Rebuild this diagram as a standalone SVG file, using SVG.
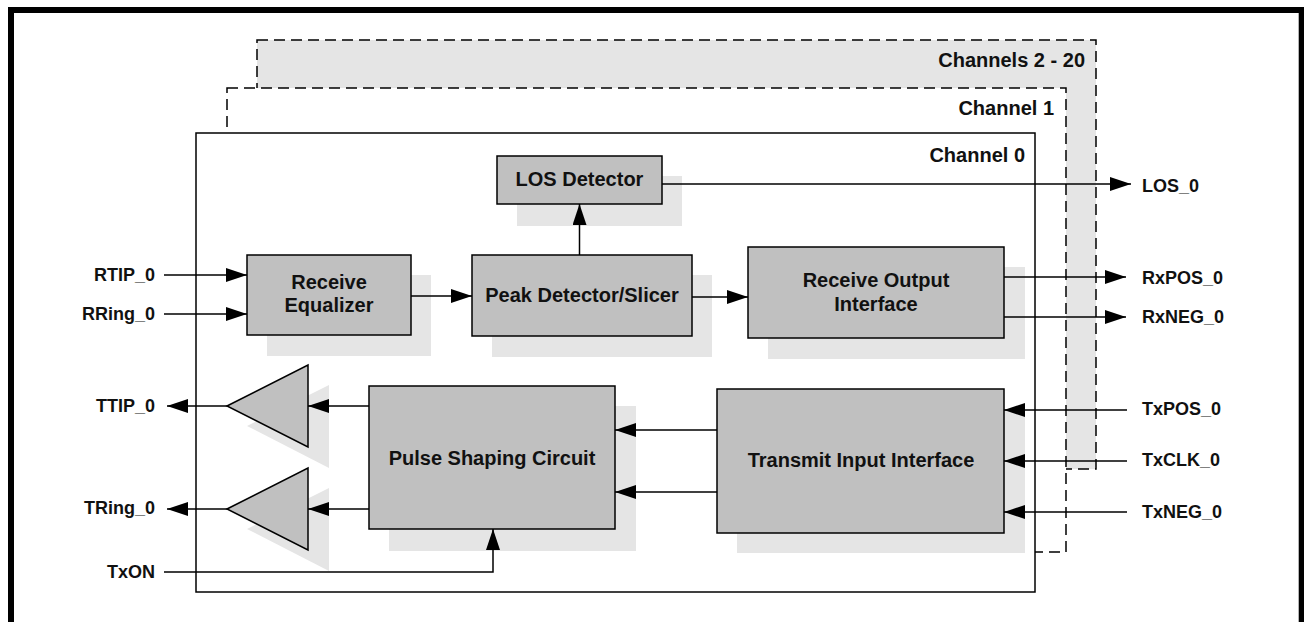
<svg xmlns="http://www.w3.org/2000/svg" width="1304" height="622" viewBox="0 0 1304 622">
<defs>
<marker id="arr" markerUnits="userSpaceOnUse" markerWidth="21" markerHeight="14" refX="21" refY="7" orient="auto">
<path d="M0,0 L21,7 L0,14 z" fill="#000"/>
</marker>
<style>
.box{fill:#c0c0c0;stroke:#000;stroke-width:1.5}
.shd{fill:#e5e5e5;stroke:none}
.ch{stroke:#000;stroke-width:1.5}
.dash{stroke-dasharray:11,6}
.t{font-family:"Liberation Sans",Arial,sans-serif;font-weight:bold;font-size:20px;fill:#111;text-anchor:middle}
.p{font-family:"Liberation Sans",Arial,sans-serif;font-weight:bold;font-size:18px;fill:#111}
.l{text-anchor:end}
.c{font-family:"Liberation Sans",Arial,sans-serif;font-weight:bold;font-size:20px;fill:#111;text-anchor:end}
.w{fill:none;stroke:#000;stroke-width:1.5}
</style>
</defs>
<rect x="0" y="0" width="1304" height="622" fill="#fff"/>
<rect x="11" y="10" width="1290.7" height="700" fill="none" stroke="#000" stroke-width="6"/>

<g id="channels">
<rect x="257" y="40" width="839" height="429" fill="#e5e5e5" class="ch dash"/>
<text class="c" x="1085" y="67">Channels 2 - 20</text>
<rect x="227" y="88" width="839" height="464" fill="#fff" class="ch dash"/>
<text class="c" x="1054" y="115">Channel 1</text>
<rect x="196" y="133" width="839" height="459" fill="#fff" class="ch"/>
<text class="c" x="1025" y="162">Channel 0</text>
</g>

<g id="los-detector">
<rect class="shd" x="517" y="176" width="165" height="50"/>
<rect class="box" x="497" y="156" width="165" height="48"/>
<text class="t" x="579.5" y="186">LOS Detector</text>
</g>

<g id="receive-equalizer">
<rect class="shd" x="267" y="275" width="164" height="81"/>
<rect class="box" x="247" y="255" width="164" height="80"/>
<text class="t" x="329" y="289">Receive</text>
<text class="t" x="329" y="312">Equalizer</text>
</g>

<g id="peak-detector">
<rect class="shd" x="492" y="275" width="220" height="82"/>
<rect class="box" x="472" y="255" width="220" height="81"/>
<text class="t" x="582" y="302">Peak Detector/Slicer</text>
</g>

<g id="receive-output">
<rect class="shd" x="768" y="267" width="257" height="92"/>
<rect class="box" x="748" y="247" width="256" height="91"/>
<text class="t" x="876" y="287">Receive Output</text>
<text class="t" x="876" y="311">Interface</text>
</g>

<g id="pulse-shaping">
<rect class="shd" x="389" y="406" width="247" height="145"/>
<rect class="box" x="369" y="386" width="246" height="143"/>
<text class="t" x="492" y="465">Pulse Shaping Circuit</text>
</g>

<g id="transmit-input">
<rect class="shd" x="737" y="409" width="288" height="144"/>
<rect class="box" x="717" y="389" width="287" height="144"/>
<text class="t" x="861" y="467">Transmit Input Interface</text>
</g>

<g id="driver-ttip">
<polygon class="shd" points="247,426 329,385 329,468"/>
<polygon class="box" points="227,406 308,365 308,447"/>
</g>

<g id="driver-tring">
<polygon class="shd" points="247,529 329,488 329,571"/>
<polygon class="box" points="227,509 308,468 308,550"/>
</g>

<g id="ports">
<text class="p l" x="155" y="281">RTIP_0</text>
<text class="p l" x="155" y="320">RRing_0</text>
<text class="p l" x="155" y="412">TTIP_0</text>
<text class="p l" x="155" y="514">TRing_0</text>
<text class="p l" x="155" y="578">TxON</text>
<text class="p" x="1142" y="192">LOS_0</text>
<text class="p" x="1142" y="284">RxPOS_0</text>
<text class="p" x="1142" y="323">RxNEG_0</text>
<text class="p" x="1142" y="415">TxPOS_0</text>
<text class="p" x="1142" y="466">TxCLK_0</text>
<text class="p" x="1142" y="518">TxNEG_0</text>
</g>

<g id="connectors" class="w">
<line x1="164" y1="275" x2="247" y2="275" marker-end="url(#arr)"/>
<line x1="164" y1="314" x2="247" y2="314" marker-end="url(#arr)"/>
<line x1="411" y1="296" x2="472" y2="296" marker-end="url(#arr)"/>
<line x1="692" y1="297" x2="748" y2="297" marker-end="url(#arr)"/>
<line x1="579.5" y1="255" x2="579.5" y2="204" marker-end="url(#arr)"/>
<line x1="662" y1="184" x2="1131" y2="184" marker-end="url(#arr)"/>
<line x1="1004" y1="277" x2="1126" y2="277" marker-end="url(#arr)"/>
<line x1="1004" y1="317" x2="1126" y2="317" marker-end="url(#arr)"/>
<line x1="1127" y1="410" x2="1004" y2="410" marker-end="url(#arr)"/>
<line x1="1127" y1="461" x2="1004" y2="461" marker-end="url(#arr)"/>
<line x1="1127" y1="512" x2="1004" y2="512" marker-end="url(#arr)"/>
<line x1="717" y1="430" x2="615" y2="430" marker-end="url(#arr)"/>
<line x1="717" y1="492" x2="615" y2="492" marker-end="url(#arr)"/>
<line x1="369" y1="406" x2="308" y2="406" marker-end="url(#arr)"/>
<line x1="369" y1="509" x2="308" y2="509" marker-end="url(#arr)"/>
<line x1="227" y1="406" x2="167" y2="406" marker-end="url(#arr)"/>
<line x1="227" y1="509" x2="167" y2="509" marker-end="url(#arr)"/>
<polyline points="164,572 493,572 493,529" marker-end="url(#arr)"/>
</g>
</svg>
